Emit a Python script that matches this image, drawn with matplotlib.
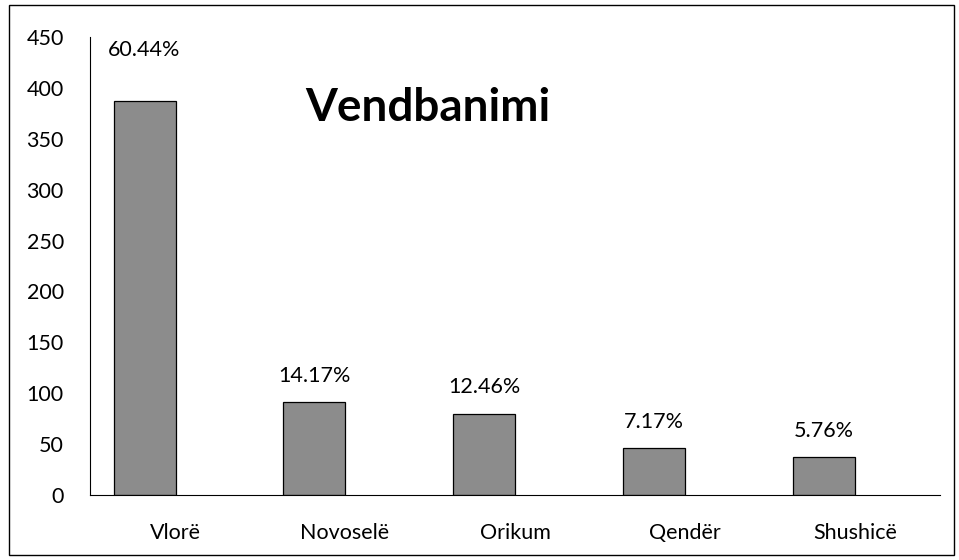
import numpy as np
import matplotlib
matplotlib.use('Agg')
from matplotlib import pyplot as plt, rcParams
from matplotlib.patches import Rectangle

places = ['Vlorë', 'Novoselë', 'Orikum', 'Qendër', 'Shushicë']
counts = [387, 91, 80, 46, 37]
pct_labels = ['60.44%', '14.17%', '12.46%', '7.17%', '5.76%']

rcParams['font.family'] = ['Lato', 'DejaVu Sans']
rcParams['font.size'] = 16

fig = plt.figure(figsize=(9.59, 5.6), dpi=100)
ax = fig.add_axes([0.094, 0.116, 0.886, 0.818])

# outer frame of the chart area
fig.patches.append(Rectangle((0.009, 0.009), 0.986, 0.982, transform=fig.transFigure,
                             fill=False, edgecolor='black', linewidth=1.0))

x = np.arange(len(places))
# bars sit left of the category centre (like a first series of two)
bars = ax.bar(x - 0.18, counts, width=0.365, color='#8c8c8c', edgecolor='black', linewidth=0.9)

# percent labels, the first one sits near the top of the axis
for i, (b, lab) in enumerate(zip(bars, pct_labels)):
    y = 437 if i == 0 else b.get_height() + 26
    ax.text(b.get_x() + b.get_width() / 2, y, lab, ha='center', va='center', fontsize=15.5)

ax.text(0.397, 0.845, 'Vendbanimi', transform=ax.transAxes, ha='center', va='center',
        fontsize=33, fontweight='bold')

ax.set_xlim(-0.5, len(places) - 0.5)
ax.set_ylim(0, 450)
ax.set_yticks(np.arange(0, 451, 50))
ax.set_xticks(x)
ax.set_xticklabels(places)
ax.tick_params(axis='y', length=0, pad=19, labelsize=15.5)
ax.tick_params(axis='x', length=0, pad=20, labelsize=15.5)

for side in ('top', 'right'):
    ax.spines[side].set_visible(False)
ax.spines['left'].set_linewidth(0.8)
ax.spines['bottom'].set_linewidth(0.8)

plt.savefig('out.png', dpi=100)
